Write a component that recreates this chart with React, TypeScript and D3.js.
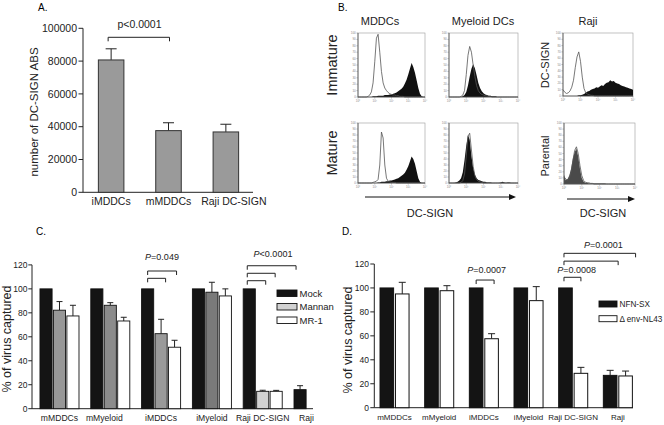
import React from "react";
import * as d3 from "d3";

const FONT = "'Liberation Sans', Arial, Helvetica, sans-serif";

// ---------- Panel A ----------
const aCategories = ["iMDDCs", "mMDDCs", "Raji DC-SIGN"];
const aValues = [80700, 37600, 36800];
const aErrors = [6800, 4800, 4700];
const aTicks = [0, 20000, 40000, 60000, 80000, 100000];
const aLabelShift = [0, 0, 8];

// ---------- Panel B (flow histograms, % of box height over 41 log bins) ----------
const histXTickLabels = ["10⁰", "10¹", "10²", "10³", "10⁴"];
const histYTicks = [0, 10, 20, 30, 40, 50, 60, 70, 80, 90, 100];
const mddcImmOpen = [0,0,0,0,0,0,1,3,8,22,55,92,98,70,40,22,14,10,7,5,4,3,3,2,2,1,1,1,0,0,0,0,0,0,0,0,0,0,0,0,0];
const mddcImmFill = [0,0,0,0,0,0,0,0,0,1,1,1,2,2,2,2,3,3,3,4,4,5,6,7,9,11,13,16,21,27,35,44,53,47,38,26,14,5,1,0,0];
const myeImmOpen = [0,0,0,0,0,0,0,1,3,10,35,65,79,70,50,32,18,10,6,4,3,2,2,1,1,0,0,0,0,0,0,0,0,0,0,0,0,0,0,0,0];
const myeImmFill = [0,0,0,0,0,0,0,0,1,3,8,18,32,44,51,45,34,22,14,9,6,4,3,2,2,1,1,1,0,0,0,0,0,0,0,0,0,0,0,0,0];
const rajiSignOpen = [10,6,4,5,8,14,25,45,62,70,55,30,12,5,3,2,1,1,0,0,0,0,0,0,0,0,0,0,0,0,0,0,0,0,0,0,0,0,0,0,0];
const rajiSignFill = [0,0,0,0,0,0,0,0,0,1,1,2,3,5,7,8,10,11,12,14,13,15,17,16,19,21,22,25,23,24,21,20,19,17,16,15,14,13,12,11,10];
const mddcMatOpen = [0,0,0,0,0,0,0,0,0,1,2,3,6,30,85,75,30,8,3,2,1,1,1,0,0,0,0,0,0,0,0,0,0,0,0,0,0,0,0,0,0];
const mddcMatFill = [0,0,0,0,0,0,0,0,0,0,0,0,1,1,2,2,2,3,3,4,4,5,6,7,8,10,12,14,17,22,28,36,44,40,32,20,8,2,0,0,0];
const myeMatOpen = [0,0,0,0,0,0,0,1,4,15,45,78,83,55,28,12,6,3,2,1,0,0,0,0,0,0,0,0,0,0,0,0,0,0,0,0,0,0,0,0,0];
const myeMatFill = [0,0,0,0,1,2,4,8,18,38,62,80,72,45,25,14,8,5,4,3,2,2,1,1,1,0,0,0,0,0,1,2,1,0,1,1,0,0,0,0,0];
const rajiParOpen = [12,8,6,10,20,38,55,61,50,30,14,6,3,2,2,1,1,0,0,0,0,0,0,0,0,0,0,0,0,0,0,0,0,0,0,0,0,0,0,0,0];
const rajiParFill = [15,6,8,14,25,42,52,58,45,25,10,4,2,2,1,1,1,1,1,1,1,1,1,1,0,0,0,0,0,0,0,0,0,0,0,0,0,0,0,0,0];

// ---------- Panel C ----------
const cGroups = ["mMDDCs", "mMyeloid", "iMDDCs", "iMyeloid", "Raji DC-SIGN", "Raji"];
const cSeries = ["Mock", "Mannan", "MR-1"];
const cMock = [100, 100, 100, 100, 100, 15.9];
const cMockErr = [null, null, null, null, null, 3.3];
const cMannan = [82.2, 86.3, 62.6, 97.2, 14.5, null];
const cMannanErr = [7.2, 2.2, 12, 8.3, 0.9, null];
const cMR1 = [77.4, 73.2, 51.3, 94.1, 14.5, null];
const cMR1Err = [8.9, 3.1, 5.8, 5.9, 0.8, null];
const cTicks = [0, 20, 40, 60, 80, 100, 120];
const cLabelShift = [0, -6, 0, 0, 0, -7];
const cMannanShade = ["#979797", "#8c8c8c", "#9a9a9a", "#7a7a7a", "#d2d2d2", "#d2d2d2"];

// ---------- Panel D ----------
const dGroups = ["mMDDCs", "mMyeloid", "iMDDCs", "iMyeloid", "Raji DC-SIGN", "Raji"];
const dSeries = ["NFN-SX", "Δ env-NL43"];
const dNFN = [100, 100, 100, 100, 100, 27.0];
const dNFNErr = [null, null, null, null, null, 4.2];
const dEnv = [95, 97.7, 57.6, 89.4, 28.7, 26.5];
const dEnvErr = [9.7, 4.2, 4.2, 11.7, 5, 4.1];
const dTicks = [0, 20, 40, 60, 80, 100, 120];

type Hist = { x: number; y: number; w: number; h: number; open: number[]; fill: number[]; fillColor: string };

function Histogram({ x, y, w, h, open, fill, fillColor }: Hist) {
  const fx = d3.scaleLinear().domain([0, fill.length - 1]).range([x, x + w]);
  const fy = d3.scaleLinear().domain([0, 100]).range([y + h, y]);
  const area = d3.area<number>().x((_, i) => fx(i)).y0(y + h).y1((d) => fy(d));
  const line = d3.line<number>().x((_, i) => fx(i)).y((d) => fy(d));
  const dec = d3.scaleLinear().domain([0, histXTickLabels.length - 1]).range([x, x + w]);
  return (
    <g>
      <rect x={x} y={y} width={w} height={h} fill="#fff" stroke="#9a9a9a" strokeWidth={0.6} />
      <path d={area(fill) || ""} fill={fillColor} />
      <path d={line(open) || ""} fill="none" stroke="#555" strokeWidth={0.8} />
      <line x1={x} x2={x} y1={y} y2={y + h} stroke="#555" strokeWidth={0.8} />
      <line x1={x} x2={x + w} y1={y + h} y2={y + h} stroke="#555" strokeWidth={0.8} />
      {histYTicks.map((t) => (
        <g key={"y" + t}>
          <line x1={x - 1.5} x2={x} y1={fy(t)} y2={fy(t)} stroke="#777" strokeWidth={0.5} />
          <text x={x - 2.2} y={fy(t) + 1} fontSize={3} fill="#888" textAnchor="end">{t}</text>
        </g>
      ))}
      {histXTickLabels.map((t, i) => (
        <g key={"x" + i}>
          <line x1={dec(i)} x2={dec(i)} y1={y + h} y2={y + h + 1.5} stroke="#777" strokeWidth={0.5} />
          <text x={dec(i)} y={y + h + 4.5} fontSize={3} fill="#888" textAnchor="middle">{t}</text>
        </g>
      ))}
    </g>
  );
}

function Bracket({ x1, x2, y, drop = 4 }: { x1: number; x2: number; y: number; drop?: number }) {
  return (
    <path d={`M${x1},${y + drop}V${y}H${x2}V${y + drop}`} fill="none" stroke="#222" strokeWidth={1} />
  );
}

export default function App() {
  // ---- A scales
  const aX = d3.scaleBand<string>().domain(aCategories).range([83, 254]).paddingInner(0.555).paddingOuter(0.268);
  const aY = d3.scaleLinear().domain([0, 100000]).range([192.3, 28.3]);

  // ---- C scales
  const cX0 = d3.scaleBand<string>().domain(cGroups).range([32, 341]).paddingInner(0.232).paddingOuter(0.157);
  const cX1 = d3.scaleBand<string>().domain(cSeries).range([0, cX0.bandwidth()]).paddingInner(0.1);
  const cY = d3.scaleLinear().domain([0, 120]).range([408.7, 264.9]);
  const cData = [
    { name: "Mock", values: cMock, errs: cMockErr, fill: () => "#141414" },
    { name: "Mannan", values: cMannan, errs: cMannanErr, fill: (gi: number) => cMannanShade[gi] },
    { name: "MR-1", values: cMR1, errs: cMR1Err, fill: () => "#ffffff" },
  ];
  const cCenter = (g: string, s: string) => (cX0(g) as number) + (cX1(s) as number) + cX1.bandwidth() / 2;

  // ---- D scales
  const dX0 = d3.scaleBand<string>().domain(dGroups).range([374.3, 638.1]).paddingInner(0.35).paddingOuter(0.128);
  const dX1 = d3.scaleBand<string>().domain(dSeries).range([0, dX0.bandwidth()]).paddingInner(0.12);
  const dY = d3.scaleLinear().domain([0, 120]).range([407.7, 264]);
  const dData = [
    { name: "NFN-SX", values: dNFN, errs: dNFNErr, fill: "#141414" },
    { name: "Δ env-NL43", values: dEnv, errs: dEnvErr, fill: "#ffffff" },
  ];
  const dCenter = (g: string, s: string) => (dX0(g) as number) + (dX1(s) as number) + dX1.bandwidth() / 2;

  const hists: Hist[] = [
    { x: 358, y: 33, w: 67, h: 64, open: mddcImmOpen, fill: mddcImmFill, fillColor: "#111" },
    { x: 449, y: 33, w: 69, h: 64, open: myeImmOpen, fill: myeImmFill, fillColor: "#111" },
    { x: 563, y: 33, w: 70, h: 63, open: rajiSignOpen, fill: rajiSignFill, fillColor: "#111" },
    { x: 358, y: 123, w: 67, h: 60, open: mddcMatOpen, fill: mddcMatFill, fillColor: "#111" },
    { x: 449, y: 123, w: 69, h: 60, open: myeMatOpen, fill: myeMatFill, fillColor: "#111" },
    { x: 564, y: 123, w: 71, h: 61, open: rajiParOpen, fill: rajiParFill, fillColor: "#4a4a4a" },
  ];

  return (
    <svg
      width={664}
      height={425}
      viewBox="0 0 664 425"
      style={{ position: "absolute", left: 0, top: 0, background: "#fff" }}
      fontFamily={FONT}
    >
      <rect x={0} y={0} width={664} height={425} fill="#fff" />

      {/* ================= Panel A ================= */}
      <text x={38} y={10.5} fontSize={10}>A.</text>
      {aTicks.map((t) => (
        <g key={t}>
          <line x1={78.5} x2={83} y1={aY(t)} y2={aY(t)} stroke="#222" />
          <text x={77} y={aY(t)} dy="0.35em" fontSize={10.5} textAnchor="end" fill="#222">{t}</text>
        </g>
      ))}
      <line x1={83} x2={83} y1={aY(100000)} y2={aY(0)} stroke="#222" />
      <line x1={83} x2={253} y1={aY(0)} y2={aY(0)} stroke="#222" />
      {aCategories.map((c, i) => {
        const x = aX(c) as number;
        const w = aX.bandwidth();
        const cx = x + w / 2;
        const top = aY(aValues[i]);
        const et = aY(aValues[i] + aErrors[i]);
        return (
          <g key={c}>
            <line x1={cx} x2={cx} y1={top} y2={et} stroke="#222" />
            <line x1={cx - 5.5} x2={cx + 5.5} y1={et} y2={et} stroke="#222" />
            <rect x={x} y={top} width={w} height={aY(0) - top} fill="#9a9a9a" stroke="#333" strokeWidth={1} />
            <text x={cx + aLabelShift[i]} y={205} fontSize={10.5} textAnchor="middle" fill="#222">{c}</text>
          </g>
        );
      })}
      <Bracket x1={(aX("iMDDCs") as number) + aX.bandwidth() / 2 - 3} x2={(aX("mMDDCs") as number) + aX.bandwidth() / 2 + 1} y={37.3} />
      <text x={139.5} y={27.5} fontSize={10.5} textAnchor="middle" fill="#222">p&lt;0.0001</text>
      <text transform="translate(37.5,112) rotate(-90)" fontSize={11.5} textAnchor="middle" fill="#222">
        number of DC-SIGN ABS
      </text>

      {/* ================= Panel B ================= */}
      <text x={338} y={10.5} fontSize={10}>B.</text>
      <text x={380} y={25} fontSize={11} textAnchor="middle" fill="#222">MDDCs</text>
      <text x={483} y={25} fontSize={11} textAnchor="middle" fill="#222">Myeloid DCs</text>
      <text x={588} y={25} fontSize={11} textAnchor="middle" fill="#222">Raji</text>
      <text transform="translate(336.5,65) rotate(-90)" fontSize={14.5} textAnchor="middle" fill="#222">Immature</text>
      <text transform="translate(336.5,153) rotate(-90)" fontSize={14.5} textAnchor="middle" fill="#222">Mature</text>
      <text transform="translate(549,65) rotate(-90)" fontSize={11} textAnchor="middle" fill="#222">DC-SIGN</text>
      <text transform="translate(549,156) rotate(-90)" fontSize={11} textAnchor="middle" fill="#222">Parental</text>
      {hists.map((h, i) => (
        <Histogram key={i} {...h} />
      ))}
      <line x1={365} x2={510} y1={197} y2={197} stroke="#111" strokeWidth={1} />
      <path d="M509,194 L516,197 L509,200 Z" fill="#111" />
      <text x={430} y={217} fontSize={11} textAnchor="middle" fill="#222">DC-SIGN</text>
      <line x1={567} x2={629} y1={199} y2={199} stroke="#111" strokeWidth={1} />
      <path d="M628,196 L635,199 L628,202 Z" fill="#111" />
      <text x={603} y={217} fontSize={11} textAnchor="middle" fill="#222">DC-SIGN</text>

      {/* ================= Panel C ================= */}
      <text x={36} y={235} fontSize={10}>C.</text>
      {cTicks.map((t) => (
        <g key={t}>
          <line x1={28.3} x2={32} y1={cY(t)} y2={cY(t)} stroke="#222" />
          <text x={27.5} y={cY(t)} dy="0.35em" fontSize={8.5} textAnchor="end" fill="#222">{t}</text>
        </g>
      ))}
      <line x1={32} x2={32} y1={cY(120)} y2={cY(0)} stroke="#222" />
      <line x1={32} x2={313} y1={cY(0)} y2={cY(0)} stroke="#222" />
      {cData.map((s) =>
        cGroups.map((g, gi) => {
          const v = s.values[gi];
          if (v == null) return null;
          const x = (cX0(g) as number) + (cX1(s.name) as number);
          const w = cX1.bandwidth();
          const cx = x + w / 2;
          const top = cY(v);
          const e = s.errs[gi];
          return (
            <g key={s.name + g}>
              {e != null && (
                <>
                  <line x1={cx} x2={cx} y1={top} y2={cY(v + e)} stroke="#222" />
                  <line x1={cx - 3} x2={cx + 3} y1={cY(v + e)} y2={cY(v + e)} stroke="#222" />
                </>
              )}
              <rect x={x} y={top} width={w} height={cY(0) - top} fill={s.fill(gi)} stroke="#111" strokeWidth={0.9} />
            </g>
          );
        })
      )}
      {cGroups.map((g, gi) => (
        <text key={g} x={(cX0(g) as number) + cX0.bandwidth() / 2 + cLabelShift[gi]} y={420.5} fontSize={8.6} textAnchor="middle" fill="#222">
          {g}
        </text>
      ))}
      {/* P brackets C */}
      <text x={162} y={260} fontSize={9} textAnchor="middle" fill="#222">
        <tspan fontStyle="italic">P</tspan>=0.049
      </text>
      <Bracket x1={cCenter("iMDDCs", "Mock")} x2={cCenter("iMDDCs", "MR-1") + 2} y={cY(114.9)} />
      <Bracket x1={cCenter("iMDDCs", "Mock")} x2={cCenter("iMDDCs", "Mannan") + 4.5} y={cY(108.8)} />
      <text x={273} y={256.5} fontSize={9} textAnchor="middle" fill="#222">
        <tspan fontStyle="italic">P</tspan>&lt;0.0001
      </text>
      <Bracket x1={cCenter("Raji DC-SIGN", "Mock") - 2} x2={cCenter("Raji", "Mock") - 4} y={cY(119.3)} />
      <Bracket x1={cCenter("Raji DC-SIGN", "Mock") - 2} x2={cCenter("Raji DC-SIGN", "MR-1") - 1} y={cY(113)} />
      <Bracket x1={cCenter("Raji DC-SIGN", "Mock") - 2} x2={cCenter("Raji DC-SIGN", "Mannan") + 3} y={cY(106.8)} />
      {/* legend C */}
      {cSeries.map((s, i) => (
        <g key={s}>
          <rect
            x={277}
            y={290 + i * 13.5}
            width={20}
            height={6.5}
            fill={i === 0 ? "#141414" : i === 1 ? "#d2d2d2" : "#fff"}
            stroke="#111"
            strokeWidth={0.9}
          />
          <text x={299.5} y={290 + i * 13.5 + 6.8} fontSize={9.5} fill="#222">{s}</text>
        </g>
      ))}
      <text transform="translate(11,339) rotate(-90)" fontSize={12.5} textAnchor="middle" fill="#222">
        % of virus captured
      </text>

      {/* ================= Panel D ================= */}
      <text x={342} y={235} fontSize={10}>D.</text>
      {dTicks.map((t) => (
        <g key={t}>
          <line x1={370.3} x2={374.3} y1={dY(t)} y2={dY(t)} stroke="#222" />
          <text x={369} y={dY(t)} dy="0.35em" fontSize={8.5} textAnchor="end" fill="#222">{t}</text>
        </g>
      ))}
      <line x1={374.3} x2={374.3} y1={dY(120)} y2={dY(0)} stroke="#222" />
      <line x1={374.3} x2={633} y1={dY(0)} y2={dY(0)} stroke="#222" />
      {dData.map((s) =>
        dGroups.map((g, gi) => {
          const v = s.values[gi];
          if (v == null) return null;
          const x = (dX0(g) as number) + (dX1(s.name) as number);
          const w = dX1.bandwidth();
          const cx = x + w / 2;
          const top = dY(v);
          const e = s.errs[gi];
          return (
            <g key={s.name + g}>
              {e != null && (
                <>
                  <line x1={cx} x2={cx} y1={top} y2={dY(v + e)} stroke="#222" />
                  <line x1={cx - 3.5} x2={cx + 3.5} y1={dY(v + e)} y2={dY(v + e)} stroke="#222" />
                </>
              )}
              <rect x={x} y={top} width={w} height={dY(0) - top} fill={s.fill} stroke="#111" strokeWidth={1} />
            </g>
          );
        })
      )}
      {dGroups.map((g) => (
        <text key={g} x={(dX0(g) as number) + dX0.bandwidth() / 2} y={419.5} fontSize={8} textAnchor="middle" fill="#222">
          {g}
        </text>
      ))}
      <text x={486.7} y={272.5} fontSize={9} textAnchor="middle" fill="#222">
        <tspan fontStyle="italic">P</tspan>=0.0007
      </text>
      <Bracket x1={dCenter("iMDDCs", "NFN-SX")} x2={dCenter("iMDDCs", "Δ env-NL43") + 2.5} y={dY(106.6)} />
      <text x={576.7} y={272.5} fontSize={9} textAnchor="middle" fill="#222">
        <tspan fontStyle="italic">P</tspan>=0.0008
      </text>
      <Bracket x1={dCenter("Raji DC-SIGN", "NFN-SX") - 1.5} x2={dCenter("Raji DC-SIGN", "Δ env-NL43")} y={dY(108.9)} />
      <text x={603.3} y={248} fontSize={9} textAnchor="middle" fill="#222">
        <tspan fontStyle="italic">P</tspan>=0.0001
      </text>
      <Bracket x1={dCenter("Raji DC-SIGN", "NFN-SX") - 1.5} x2={dCenter("Raji", "Δ env-NL43") + 10} y={dY(128.9)} />
      <Bracket x1={dCenter("Raji DC-SIGN", "NFN-SX") - 1.5} x2={dCenter("Raji", "NFN-SX") + 8} y={dY(122.4)} />
      {dSeries.map((s, i) => (
        <g key={s}>
          <rect x={599} y={301 + i * 14.7} width={18} height={6} fill={i === 0 ? "#141414" : "#fff"} stroke="#111" strokeWidth={0.9} />
          <text x={619.5} y={301 + i * 14.7 + 6.3} fontSize={8.2} fill="#222">{s}</text>
        </g>
      ))}
      <text transform="translate(352,340) rotate(-90)" fontSize={12.5} textAnchor="middle" fill="#222">
        % of virus captured
      </text>
    </svg>
  );
}
